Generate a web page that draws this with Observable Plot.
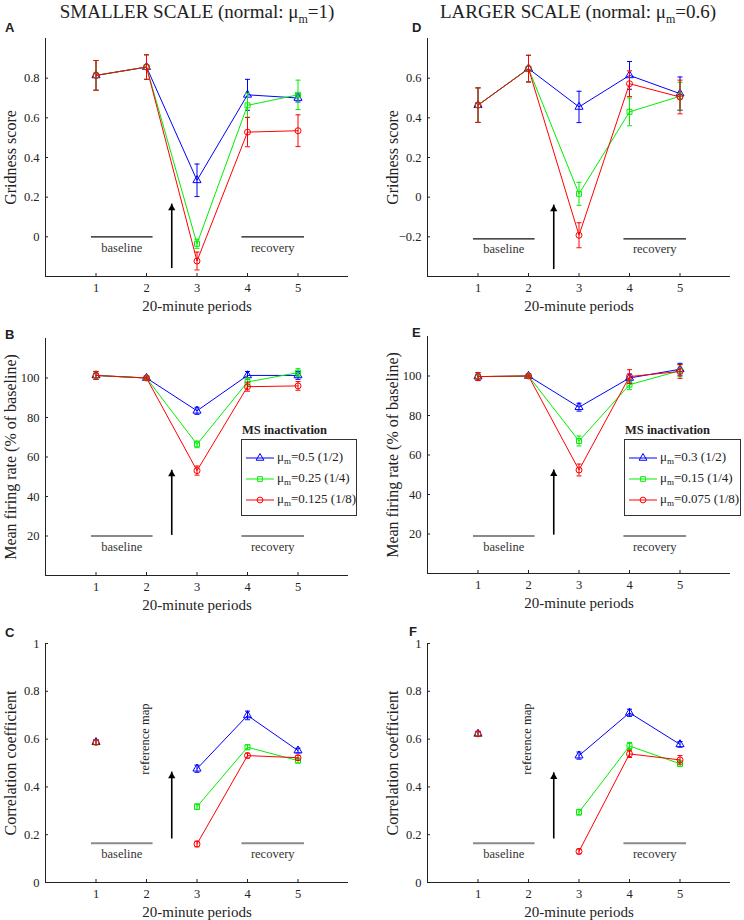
<!DOCTYPE html>
<html>
<head>
<meta charset="utf-8">
<script src="https://cdn.jsdelivr.net/npm/d3@7"></script>
<script src="https://cdn.jsdelivr.net/npm/@observablehq/plot@0.6"></script>
<style>
  body { margin: 0; background: #fff; }
  #fig { position: relative; width: 744px; height: 920px; overflow: hidden; font-family: "Liberation Serif", "Times New Roman", serif; color: #222; background: #fff; }
  #fig svg.pl { position: absolute; }
  #fig svg.pl, #fig svg.pl g, #fig svg.pl text { font-family: "Liberation Serif", "Times New Roman", serif !important; }
  .title { position: absolute; font-size: 19px; line-height: 1; white-space: nowrap; transform: translateX(-50%); }
  .sub { font-size: 12px; position: relative; top: 5px; }
  .letter { position: absolute; font-family: "Liberation Sans", Arial, sans-serif; font-weight: bold; font-size: 13px; line-height: 1; }
  .lghead { position: absolute; font-weight: bold; font-size: 12.5px; line-height: 1; white-space: nowrap; }
  .lgbox { position: absolute; border: 1px solid #333; box-sizing: border-box; background: #fff; }
  .lgtext { position: absolute; font-size: 13px; line-height: 1; white-space: nowrap; }
  .lgtext .sub { font-size: 9px; top: 3px; }
  .lgsym { position: absolute; }
  #fig g[aria-label="x-axis label"] text { font-size: 15px; }
  #fig g[aria-label="y-axis label"] text { font-size: 16px; }
  #fig g[aria-label="x-axis tick label"] text, #fig g[aria-label="y-axis tick label"] text { font-size: 12.5px; }
</style>
</head>
<body>
<div id="fig"></div>
<script>
// ---------- data ----------
const periods = [1, 2, 3, 4, 5];
const seriesColors = ["#0000ff", "#00ee00", "#ff0000"];
const seriesSymbols = ["triangle", "square", "circle"];

// A: gridness, smaller scale
const gridSmallBlue = [0.814, 0.856, 0.285, 0.716, 0.700];
const gridSmallBlueErr = [0.075, 0.062, 0.082, 0.078, 0.020];
const gridSmallGreen = [0.814, 0.856, -0.035, 0.663, 0.716];
const gridSmallGreenErr = [0.075, 0.062, 0.023, 0.060, 0.074];
const gridSmallRed = [0.814, 0.856, -0.122, 0.528, 0.535];
const gridSmallRedErr = [0.075, 0.062, 0.045, 0.074, 0.080];

// D: gridness, larger scale
const gridLargeBlue = [0.464, 0.648, 0.455, 0.614, 0.522];
const gridLargeBlueErr = [0.087, 0.067, 0.079, 0.070, 0.084];
const gridLargeGreen = [0.464, 0.648, 0.017, 0.430, 0.509];
const gridLargeGreenErr = [0.087, 0.067, 0.058, 0.070, 0.070];
const gridLargeRed = [0.464, 0.648, -0.192, 0.572, 0.505];
const gridLargeRedErr = [0.087, 0.067, 0.063, 0.065, 0.085];

// B: firing rate, smaller scale
const rateSmallBlue = [101.3, 100, 83.4, 101.3, 101.3];
const rateSmallBlueErr = [2, 0.5, 1.8, 2, 2];
const rateSmallGreen = [101.3, 100, 66.4, 98.0, 102.7];
const rateSmallGreenErr = [2, 0.5, 1.7, 2, 2];
const rateSmallRed = [101.3, 100, 53.1, 95.6, 96.0];
const rateSmallRedErr = [2, 0.5, 2.3, 2.3, 2.2];

// E: firing rate, larger scale
const rateLargeBlue = [99.7, 100, 84.2, 99.0, 103.4];
const rateLargeBlueErr = [2, 0.5, 2, 2, 3];
const rateLargeGreen = [99.7, 100, 67.1, 95.6, 102.7];
const rateLargeGreenErr = [2, 0.5, 2.5, 2.5, 3];
const rateLargeRed = [99.7, 100, 52.4, 99.7, 102.3];
const rateLargeRedErr = [2, 0.5, 3, 3.5, 3.5];

// C: correlation, smaller scale (no value at period 2)
const corrSmallBlue = [0.587, null, 0.476, 0.699, 0.552];
const corrSmallBlueErr = [0.010, null, 0.015, 0.018, 0.010];
const corrSmallGreen = [0.587, null, 0.317, 0.566, 0.510];
const corrSmallGreenErr = [0.010, null, 0.012, 0.010, 0.010];
const corrSmallRed = [0.587, null, 0.161, 0.531, 0.522];
const corrSmallRedErr = [0.010, null, 0.012, 0.010, 0.010];

// F: correlation, larger scale
const corrLargeBlue = [0.622, null, 0.531, 0.710, 0.578];
const corrLargeBlueErr = [0.010, null, 0.015, 0.015, 0.012];
const corrLargeGreen = [0.622, null, 0.294, 0.571, 0.497];
const corrLargeGreenErr = [0.010, null, 0.012, 0.015, 0.012];
const corrLargeRed = [0.622, null, 0.130, 0.538, 0.513];
const corrLargeRedErr = [0.010, null, 0.010, 0.015, 0.018];

// annotation spans (in periods) and per-panel annotation levels [line, text, arrow start, arrow tip]
const baselineSpan = [0.9, 2.12];
const recoverySpan = [3.88, 5.12];
const arrowPeriod = 2.5;
const gridSmallAnn = [0, -0.055, -0.16, 0.165];
const gridLargeAnn = [-0.21, -0.262, -0.365, -0.04];
const rateSmallAnn = [20, 14.5, 20.3, 53.3];
const rateLargeAnn = [19, 13.5, 19.4, 52.4];
const corrSmallAnn = [0.164, 0.119, 0.182, 0.462];
const corrLargeAnn = [0.164, 0.119, 0.182, 0.459];
const refMapAt = [1.98, 0.6];

const legendSmall = ["0.5 (1/2)", "0.25 (1/4)", "0.125 (1/8)"];
const legendLarge = ["0.3 (1/2)", "0.15 (1/4)", "0.075 (1/8)"];

// ---------- drawing ----------
const fig = document.getElementById("fig");
const serif = "'Liberation Serif', 'Times New Roman', serif";

function buildPanel(p) {
  const marks = [];
  marks.push(Plot.ruleX([0], {stroke: "#222", strokeWidth: 1}));
  marks.push(Plot.ruleY([p.yDomain[0]], {stroke: "#222", strokeWidth: 1}));
  const [lineY, textY, arrowFrom, arrowTo] = p.ann;
  const annRows = [
    {x1: baselineSpan[0], x2: baselineSpan[1], label: "baseline"},
    {x1: recoverySpan[0], x2: recoverySpan[1], label: "recovery"}
  ];
  marks.push(Plot.link(annRows, {x1: "x1", x2: "x2", y1: () => lineY, y2: () => lineY, stroke: p.annColor, strokeWidth: p.annWidth}));
  marks.push(Plot.text(annRows, {x: d => (d.x1 + d.x2) / 2, y: () => textY, text: "label", fontSize: 12.5, fontFamily: serif, fill: "#333"}));
  marks.push(Plot.ruleX([arrowPeriod], {x: d => d, y1: () => arrowFrom, y2: () => arrowTo, stroke: "#000", strokeWidth: 1.6}));
  marks.push(Plot.dot([arrowPeriod], {x: d => d, y: () => arrowTo, symbol: "triangle", r: 2.7, fill: "#000", stroke: "none", dy: 4}));
  if (p.refMap) {
    marks.push(Plot.text(["reference map"], {x: () => refMapAt[0], y: () => refMapAt[1], text: d => d, rotate: -90, fontSize: 12.5, fontFamily: serif, fill: "#222"}));
  }
  p.vals.forEach((vals, si) => {
    const errs = p.errs[si];
    const all = periods.map((x, i) => ({x, v: vals[i], e: errs[i]}));
    const pts = all.filter(d => d.v != null);
    const col = seriesColors[si];
    marks.push(Plot.ruleX(pts, {x: "x", y1: d => d.v - d.e, y2: d => d.v + d.e, stroke: col, strokeWidth: 1}));
    marks.push(Plot.link(pts, {x1: d => d.x - 0.05, x2: d => d.x + 0.05, y1: d => d.v + d.e, y2: d => d.v + d.e, stroke: col, strokeWidth: 1}));
    marks.push(Plot.link(pts, {x1: d => d.x - 0.05, x2: d => d.x + 0.05, y1: d => d.v - d.e, y2: d => d.v - d.e, stroke: col, strokeWidth: 1}));
    marks.push(Plot.line(all, {x: "x", y: "v", stroke: col, strokeWidth: 1}));
    marks.push(Plot.dot(pts, {x: "x", y: "v", symbol: seriesSymbols[si], r: si === 1 ? 2.8 : 3, stroke: col, fill: "none", strokeWidth: 1}));
  });

  const svg = Plot.plot({
    width: 372,
    height: p.height,
    marginLeft: p.ml, marginRight: p.mr, marginTop: p.mt, marginBottom: p.mb,
    style: {fontFamily: serif, fontSize: "12.5px", color: "#222", background: "transparent", overflow: "visible"},
    x: {domain: [0, 6], ticks: periods, tickSize: -3, tickPadding: 10, tickFormat: d3.format("d"),
        label: "20-minute periods", labelAnchor: "center", labelOffset: 34, labelArrow: false},
    y: {domain: p.yDomain, ticks: p.yTicks, tickSize: -3, tickPadding: 9, tickFormat: d3.format("~g"),
        label: p.yLabel, labelAnchor: "center", labelOffset: 41, labelArrow: false},
    marks
  });
  svg.classList.add("pl");
  svg.style.left = p.left + "px";
  svg.style.top = p.top + "px";
  fig.appendChild(svg);
}

const colL = {left: 0, ml: 45, mr: 24};
const colR = {left: 372, ml: 55, mr: 14};
const row1 = {top: 20, height: 300, mt: 18, mb: 44};
const row2 = {top: 320, height: 300, mt: 18, mb: 45};
const row3 = {top: 625, height: 295, mt: 18, mb: 38};

const panels = [
  {...colL, ...row1, yDomain: [-0.2, 1], yTicks: [0, 0.2, 0.4, 0.6, 0.8], yLabel: "Gridness score",
   vals: [gridSmallBlue, gridSmallGreen, gridSmallRed], errs: [gridSmallBlueErr, gridSmallGreenErr, gridSmallRedErr],
   ann: gridSmallAnn, annColor: "#111", annWidth: 1.3},
  {...colR, ...row1, yDomain: [-0.4, 0.8], yTicks: [-0.2, 0, 0.2, 0.4, 0.6], yLabel: "Gridness score",
   vals: [gridLargeBlue, gridLargeGreen, gridLargeRed], errs: [gridLargeBlueErr, gridLargeGreenErr, gridLargeRedErr],
   ann: gridLargeAnn, annColor: "#111", annWidth: 1.3},
  {...colL, ...row2, yDomain: [0, 120], yTicks: [20, 40, 60, 80, 100], yLabel: "Mean firing rate (% of baseline)",
   vals: [rateSmallBlue, rateSmallGreen, rateSmallRed], errs: [rateSmallBlueErr, rateSmallGreenErr, rateSmallRedErr],
   ann: rateSmallAnn, annColor: "#8a8a8a", annWidth: 2},
  {...colR, ...row2, top: 318, yDomain: [0, 120], yTicks: [20, 40, 60, 80, 100], yLabel: "Mean firing rate (% of baseline)",
   vals: [rateLargeBlue, rateLargeGreen, rateLargeRed], errs: [rateLargeBlueErr, rateLargeGreenErr, rateLargeRedErr],
   ann: rateLargeAnn, annColor: "#8a8a8a", annWidth: 2},
  {...colL, ...row3, yDomain: [0, 1], yTicks: [0, 0.2, 0.4, 0.6, 0.8, 1], yLabel: "Correlation coefficient",
   vals: [corrSmallBlue, corrSmallGreen, corrSmallRed], errs: [corrSmallBlueErr, corrSmallGreenErr, corrSmallRedErr],
   ann: corrSmallAnn, annColor: "#8a8a8a", annWidth: 2, refMap: true},
  {...colR, ...row3, yDomain: [0, 1], yTicks: [0, 0.2, 0.4, 0.6, 0.8, 1], yLabel: "Correlation coefficient",
   vals: [corrLargeBlue, corrLargeGreen, corrLargeRed], errs: [corrLargeBlueErr, corrLargeGreenErr, corrLargeRedErr],
   ann: corrLargeAnn, annColor: "#8a8a8a", annWidth: 2, refMap: true}
];
panels.forEach(buildPanel);

// titles
function addHTML(html) { fig.insertAdjacentHTML("beforeend", html); }
addHTML(`<div class="title" style="left:197px;top:2px">SMALLER SCALE (normal: μ<span class="sub">m</span>=1)</div>`);
addHTML(`<div class="title" style="left:578px;top:2px">LARGER SCALE (normal: μ<span class="sub">m</span>=0.6)</div>`);

// panel letters
[["A", 5, 21], ["D", 412, 21], ["B", 5, 328], ["E", 412, 326], ["C", 5, 626], ["F", 409, 625]]
  .forEach(([t, x, y]) => addHTML(`<div class="letter" style="left:${x}px;top:${y}px">${t}</div>`));

// legends
function addLegend(left, top, width, labels) {
  addHTML(`<div class="lghead" style="left:${left + 1}px;top:${top - 15}px">MS inactivation</div>`);
  addHTML(`<div class="lgbox" style="left:${left}px;top:${top}px;width:${width}px;height:77px"></div>`);
  const rowYs = [18.5, 39.5, 60.5];
  labels.forEach((lab, i) => {
    const y = top + rowYs[i];
    const size = i === 1 ? 22 : 26;
    const types = [d3.symbolTriangle, d3.symbolSquare, d3.symbolCircle];
    const path = d3.symbol(types[i], size)();
    addHTML(`<svg class="lgsym" width="28" height="12" style="left:${left + 5}px;top:${y - 6}px">
      <line x1="0" x2="28" y1="6" y2="6" stroke="${seriesColors[i]}" stroke-width="1"/>
      <path d="${path}" transform="translate(14,6)" fill="none" stroke="${seriesColors[i]}" stroke-width="1"/></svg>`);
    addHTML(`<div class="lgtext" style="left:${left + 36}px;top:${y - 8}px">μ<span class="sub">m</span>=${lab}</div>`);
  });
}
addLegend(241, 439, 116, legendSmall);
addLegend(624, 439, 117, legendLarge);
</script>
</body>
</html>
